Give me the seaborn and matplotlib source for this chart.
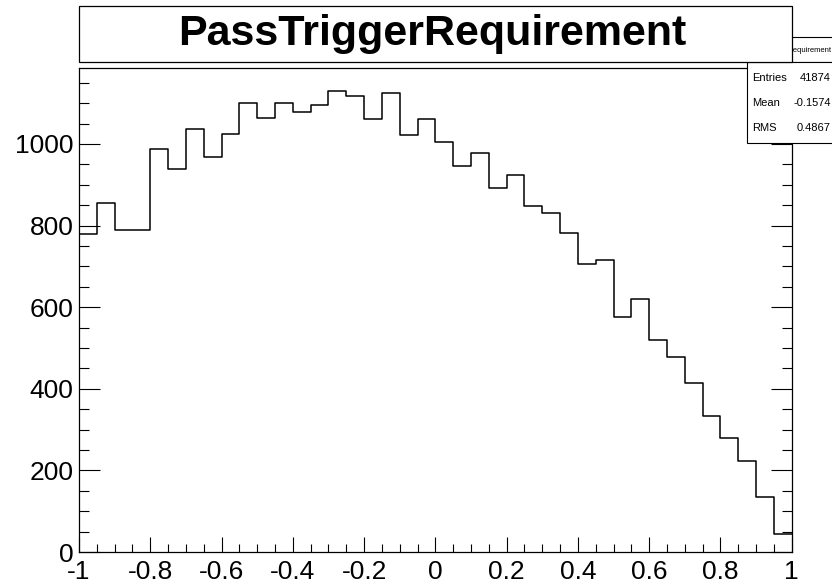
import numpy as np
import pandas as pd
import matplotlib
matplotlib.use("Agg")
import matplotlib.pyplot as plt
import seaborn as sns
from matplotlib.patches import Rectangle
from matplotlib.ticker import MultipleLocator, FixedLocator, FixedFormatter

# Histogram binning: 40 bins over [-1, 1]
x_low, x_high, n_bins = -1.0, 1.0, 40

# Bin contents, left to right
counts = [
    780, 855, 788, 790, 987, 939, 1036, 968, 1024, 1100,
    1063, 1100, 1078, 1096, 1129, 1118, 1060, 1125, 1023, 1060,
    1004, 945, 977, 892, 925, 847, 832, 782, 705, 715,
    577, 620, 520, 478, 414, 334, 280, 223, 135, 45,
]

x_tick_values = [-1, -0.8, -0.6, -0.4, -0.2, 0, 0.2, 0.4, 0.6, 0.8, 1]
x_tick_labels = ["-1", "-0.8", "-0.6", "-0.4", "-0.2", "0", "0.2", "0.4", "0.6", "0.8", "1"]
y_tick_values = [0, 200, 400, 600, 800, 1000]
y_tick_labels = ["0", "200", "400", "600", "800", "1000"]

title = "PassTriggerRequirement"
stats_names = ["Entries", "Mean", "RMS"]
stats_values = ["41874", "-0.1574", "0.4867"]

sns.set_theme(style="white")
plt.rcParams["font.family"] = ["Liberation Sans", "DejaVu Sans"]

W, H = 832, 583
fig = plt.figure(figsize=(W / 100, H / 100), dpi=100)
fig.patch.set_facecolor("white")


def fx(px):
    return px / W


def fy(py):
    return 1 - py / H


ax_left, ax_right, ax_top, ax_bottom = 79, 791.7, 68.3, 552
ax = fig.add_axes([fx(ax_left), fy(ax_bottom), fx(ax_right - ax_left), (ax_bottom - ax_top) / H])
ax.set_facecolor("white")

bin_width = (x_high - x_low) / n_bins
centers = x_low + bin_width * (np.arange(n_bins) + 0.5)
df = pd.DataFrame({"x": centers, "n": counts})

sns.histplot(data=df, x="x", weights="n", binwidth=bin_width, binrange=(x_low, x_high),
             element="step", fill=False, color="black", linewidth=1.1, ax=ax)

ax.set_xlim(x_low, x_high)
ax.set_ylim(0, 1.05 * max(counts))
ax.set_xlabel("")
ax.set_ylabel("")

ax.xaxis.set_major_locator(FixedLocator(x_tick_values))
ax.xaxis.set_major_formatter(FixedFormatter(x_tick_labels))
ax.xaxis.set_minor_locator(MultipleLocator(0.05))
ax.yaxis.set_major_locator(FixedLocator(y_tick_values))
ax.yaxis.set_major_formatter(FixedFormatter(y_tick_labels))
ax.yaxis.set_minor_locator(MultipleLocator(50))

ax.tick_params(axis="y", which="major", direction="in", length=15, width=0.8,
               left=True, right=True, labelsize=19, pad=4, colors="black")
ax.tick_params(axis="y", which="minor", direction="in", length=7.5, width=0.8,
               left=True, right=True, colors="black")
ax.tick_params(axis="x", which="major", direction="in", length=11, width=0.8,
               bottom=True, top=False, labelsize=19, pad=6, colors="black")
ax.tick_params(axis="x", which="minor", direction="in", length=5.5, width=0.8,
               bottom=True, top=False, colors="black")
for s in ax.spines.values():
    s.set_color("black")
    s.set_linewidth(0.9)

# Statistics box header (partly hidden under the title box)
fig.add_artist(Rectangle((fx(747.3), fy(62)), fx(90), (62 - 37.3) / H,
                         transform=fig.transFigure, facecolor="white",
                         edgecolor="black", linewidth=0.8, zorder=2))
fig.text(fx(789), fy(50), title, ha="center", va="center", fontsize=5.5,
         color="black", zorder=3)

# Statistics box body
fig.add_artist(Rectangle((fx(747.3), fy(142.7)), fx(90), (142.7 - 62) / H,
                         transform=fig.transFigure, facecolor="white",
                         edgecolor="black", linewidth=0.8, zorder=2))
for i, (name, val) in enumerate(zip(stats_names, stats_values)):
    yy = 78.3 + i * 25.0
    fig.text(fx(751.7), fy(yy), name, ha="left", va="center", fontsize=8,
             color="black", zorder=3)
    fig.text(fx(830.7), fy(yy), val, ha="right", va="center", fontsize=8,
             color="black", zorder=3)

# Title box
fig.add_artist(Rectangle((fx(79), fy(61.7)), fx(791.7 - 79), (61.7 - 6) / H,
                         transform=fig.transFigure, facecolor="white",
                         edgecolor="black", linewidth=0.9, zorder=5))
fig.text(fx(432), fy(44.6), title, ha="center", va="baseline", fontsize=31,
         fontweight="bold", color="black", zorder=6)

fig.savefig("out.png", dpi=100, facecolor="white")
